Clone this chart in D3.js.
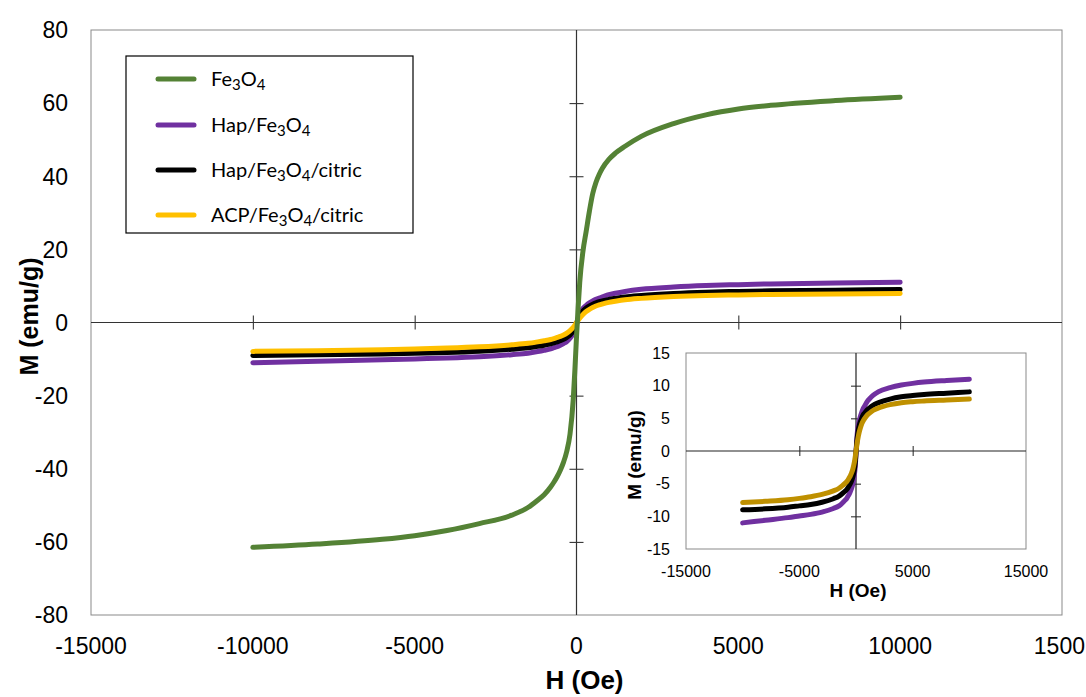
<!DOCTYPE html>
<html><head><meta charset="utf-8">
<script src="https://cdn.jsdelivr.net/npm/d3@7"></script>
<style>body{margin:0;background:#fff}svg{display:block}</style>
</head><body>
<svg id="c" width="1086" height="697"></svg>
<script>
// ---- data ----
const fieldH = [-10000,-8000,-6000,-5000,-4000,-3000,-2000,-1500,-1200,-1000,-800,-700,-600,-500,-400,-300,-200,-100,-50,0,50,100,200,300,400,500,600,700,800,1000,1200,1500,2000,3000,4000,5000,6000,8000,10000];
const mFe3O4 = [-61.5,-60.6,-59.3,-58.3,-56.9,-55.0,-52.7,-50.6,-48.6,-47.1,-45.0,-43.7,-42.2,-40.4,-38.2,-35.2,-30.5,-21,-13,-4,4,11,19.5,25,30.5,35.2,38.3,40.5,42.2,44.6,46.3,48.2,50.9,54.4,56.8,58.4,59.4,60.7,61.6];
const mHap = [-11.0,-10.6,-10.2,-9.95,-9.7,-9.35,-8.8,-8.4,-7.95,-7.6,-7.2,-6.9,-6.6,-6.2,-5.75,-5.2,-4.3,-3.0,-2.0,-0.5,1.2,2.5,3.9,4.7,5.35,5.9,6.35,6.7,7.0,7.6,8.0,8.5,9.1,9.7,10.1,10.35,10.55,10.8,11.0];
const mHapCitric = [-9.0,-8.85,-8.6,-8.4,-8.2,-7.85,-7.3,-6.9,-6.5,-6.2,-5.85,-5.6,-5.3,-5.0,-4.6,-4.1,-3.4,-2.3,-1.5,-0.3,0.9,1.9,3.2,4.0,4.55,5.0,5.4,5.7,5.9,6.3,6.6,7.0,7.4,7.95,8.3,8.5,8.65,8.85,9.05];
const mAcpCitric = [-7.9,-7.7,-7.45,-7.25,-7.0,-6.65,-6.1,-5.7,-5.3,-5.0,-4.65,-4.4,-4.1,-3.8,-3.4,-2.9,-2.2,-1.3,-0.7,0,0.6,1.2,2.2,3.0,3.6,4.1,4.5,4.8,5.05,5.5,5.8,6.2,6.6,7.1,7.4,7.55,7.65,7.8,7.95];
const seriesNames = ["Fe3O4","Hap/Fe3O4","Hap/Fe3O4/citric","ACP/Fe3O4/citric"];
const mainXTicks = [-15000,-10000,-5000,0,5000,10000];
const mainXEdgeLabel = "1500";
const mainYTicks = [-80,-60,-40,-20,0,20,40,60,80];
const insetXTicks = [-15000,-5000,5000,15000];
const insetYTicks = [-15,-10,-5,0,5,10,15];

const colors = {"Fe3O4":"#548235","Hap/Fe3O4":"#7030A0","Hap/Fe3O4/citric":"#000000","ACP/Fe3O4/citric":"#FFC000"};
const insetColors = {"Hap/Fe3O4":"#7030A0","Hap/Fe3O4/citric":"#000000","ACP/Fe3O4/citric":"#BF9000"};
const seriesData = {"Fe3O4":mFe3O4,"Hap/Fe3O4":mHap,"Hap/Fe3O4/citric":mHapCitric,"ACP/Fe3O4/citric":mAcpCitric};

const svg = d3.select("#c");
const font = "'Liberation Sans', Arial, sans-serif";

// ---- main chart ----
const M = {l:91, r:1062, t:30, b:615};
const x = d3.scaleLinear().domain([-15000,15000]).range([M.l,M.r]);
const y = d3.scaleLinear().domain([-80,80]).range([M.b,M.t]);

svg.append("rect").attr("x",M.l).attr("y",M.t).attr("width",M.r-M.l).attr("height",M.b-M.t)
  .attr("fill","#fff").attr("stroke","#898989").attr("stroke-width",1);

const xAx = svg.append("g").attr("transform",`translate(0,${y(0)})`)
  .call(d3.axisBottom(x).tickValues([-10000,-5000,5000,10000]).tickSize(7).tickSizeOuter(0).tickFormat(""));
xAx.select(".domain").remove();
xAx.selectAll(".tick line").attr("y1",-7).attr("stroke","#222");
svg.append("line").attr("x1",M.l).attr("x2",M.r).attr("y1",y(0)).attr("y2",y(0)).attr("stroke","#333").attr("stroke-width",1.2);

const yAx = svg.append("g").attr("transform",`translate(${x(0)},0)`)
  .call(d3.axisLeft(y).tickValues([-60,-40,-20,20,40,60]).tickSize(7).tickSizeOuter(0).tickFormat(""));
yAx.select(".domain").remove();
yAx.selectAll(".tick line").attr("x1",7).attr("stroke","#222");
svg.append("line").attr("x1",x(0)).attr("x2",x(0)).attr("y1",M.t).attr("y2",M.b).attr("stroke","#333").attr("stroke-width",1.2);

svg.append("g").selectAll("text").data(mainYTicks).join("text")
  .attr("x",68).attr("y",d=>y(d)).attr("dy","0.36em").attr("text-anchor","end")
  .attr("font-family",font).attr("font-size",23).attr("fill","#000").text(d=>d);
svg.append("g").selectAll("text").data(mainXTicks).join("text")
  .attr("x",d=>x(d)).attr("y",654).attr("text-anchor","middle")
  .attr("font-family",font).attr("font-size",23).attr("fill","#000").text(d=>d);
svg.append("text").attr("x",1085).attr("y",654).attr("text-anchor","end")
  .attr("font-family",font).attr("font-size",23).attr("fill","#000").text(mainXEdgeLabel);

svg.append("text").attr("x",x(0)+8).attr("y",689).attr("text-anchor","middle")
  .attr("font-family",font).attr("font-size",26).attr("font-weight","bold").text("H (Oe)");
svg.append("text").attr("transform",`translate(38,${y(0)-6}) rotate(-90)`).attr("text-anchor","middle")
  .attr("font-family",font).attr("font-size",25).attr("font-weight","bold").text("M (emu/g)");

const line = (xs,ys,arr)=> d3.line().x((d,i)=>xs(fieldH[i])).y(d=>ys(d)).curve(d3.curveMonotoneX)(arr);

["Hap/Fe3O4","Hap/Fe3O4/citric","ACP/Fe3O4/citric","Fe3O4"].forEach(n=>{
  svg.append("path").attr("d",line(x,y,seriesData[n])).attr("fill","none")
    .attr("stroke",colors[n]).attr("stroke-width",5).attr("stroke-linecap","round").attr("stroke-linejoin","round");
});

// ---- legend ----
const lg = svg.append("g");
lg.append("rect").attr("x",126).attr("y",56).attr("width",287).attr("height",177).attr("fill","#fff").attr("stroke","#000").attr("stroke-width",1.2);
const rowsY = [79,125,170,215];
seriesNames.forEach((n,i)=>{
  lg.append("line").attr("x1",158).attr("x2",194).attr("y1",rowsY[i]).attr("y2",rowsY[i])
    .attr("stroke",colors[n]).attr("stroke-width",5).attr("stroke-linecap","round");
  const t = lg.append("text").attr("x",211).attr("y",rowsY[i]+7).attr("font-family","Lato, 'Open Sans', sans-serif").attr("font-size",20).attr("fill","#000");
  const parts = n.split(/(\d)/).filter(p=>p!=="");
  let prevSub = false;
  parts.forEach(p=>{
    if(/^\d$/.test(p)){
      t.append("tspan").attr("font-size",15).attr("dy",prevSub?0:4).text(p);
      prevSub = true;
    } else {
      t.append("tspan").attr("dy",prevSub?-4:0).text(p);
      prevSub = false;
    }
  });
});

// ---- inset ----
const I = {l:686, r:1026, t:353, b:549};
const xi = d3.scaleLinear().domain([-15000,15000]).range([I.l,I.r]);
const yi = d3.scaleLinear().domain([-15,15]).range([I.b,I.t]);
svg.append("rect").attr("x",I.l).attr("y",I.t).attr("width",I.r-I.l).attr("height",I.b-I.t)
  .attr("fill","#fff").attr("stroke","#898989").attr("stroke-width",1);
const xiAx = svg.append("g").attr("transform",`translate(0,${yi(0)})`)
  .call(d3.axisBottom(xi).tickValues([-5000,5000]).tickSize(5).tickSizeOuter(0).tickFormat(""));
xiAx.select(".domain").remove();
xiAx.selectAll(".tick line").attr("y1",-5).attr("stroke","#222");
svg.append("line").attr("x1",I.l).attr("x2",I.r).attr("y1",yi(0)).attr("y2",yi(0)).attr("stroke","#222").attr("stroke-width",1.2);
const yiAx = svg.append("g").attr("transform",`translate(${xi(0)},0)`)
  .call(d3.axisLeft(yi).tickValues([-10,-5,5,10]).tickSize(5).tickSizeOuter(0).tickFormat(""));
yiAx.select(".domain").remove();
yiAx.selectAll(".tick line").attr("x1",5).attr("stroke","#222");
svg.append("line").attr("x1",xi(0)).attr("x2",xi(0)).attr("y1",I.t).attr("y2",I.b).attr("stroke","#222").attr("stroke-width",1.2);

svg.append("g").selectAll("text").data(insetYTicks).join("text")
  .attr("x",670).attr("y",d=>yi(d)).attr("dy","0.36em").attr("text-anchor","end")
  .attr("font-family",font).attr("font-size",16).text(d=>d);
svg.append("g").selectAll("text").data(insetXTicks).join("text")
  .attr("x",d=>xi(d)).attr("y",577).attr("text-anchor","middle")
  .attr("font-family",font).attr("font-size",16).text(d=>d);
svg.append("text").attr("x",xi(0)+2).attr("y",597).attr("text-anchor","middle")
  .attr("font-family",font).attr("font-size",19).attr("font-weight","bold").text("H (Oe)");
svg.append("text").attr("transform",`translate(641,${yi(0)+4}) rotate(-90)`).attr("text-anchor","middle")
  .attr("font-family",font).attr("font-size",19).attr("font-weight","bold").text("M (emu/g)");

["Hap/Fe3O4","Hap/Fe3O4/citric","ACP/Fe3O4/citric"].forEach(n=>{
  svg.append("path").attr("d",line(xi,yi,seriesData[n])).attr("fill","none")
    .attr("stroke",insetColors[n]).attr("stroke-width",5).attr("stroke-linecap","round").attr("stroke-linejoin","round");
});
</script>
</body></html>
